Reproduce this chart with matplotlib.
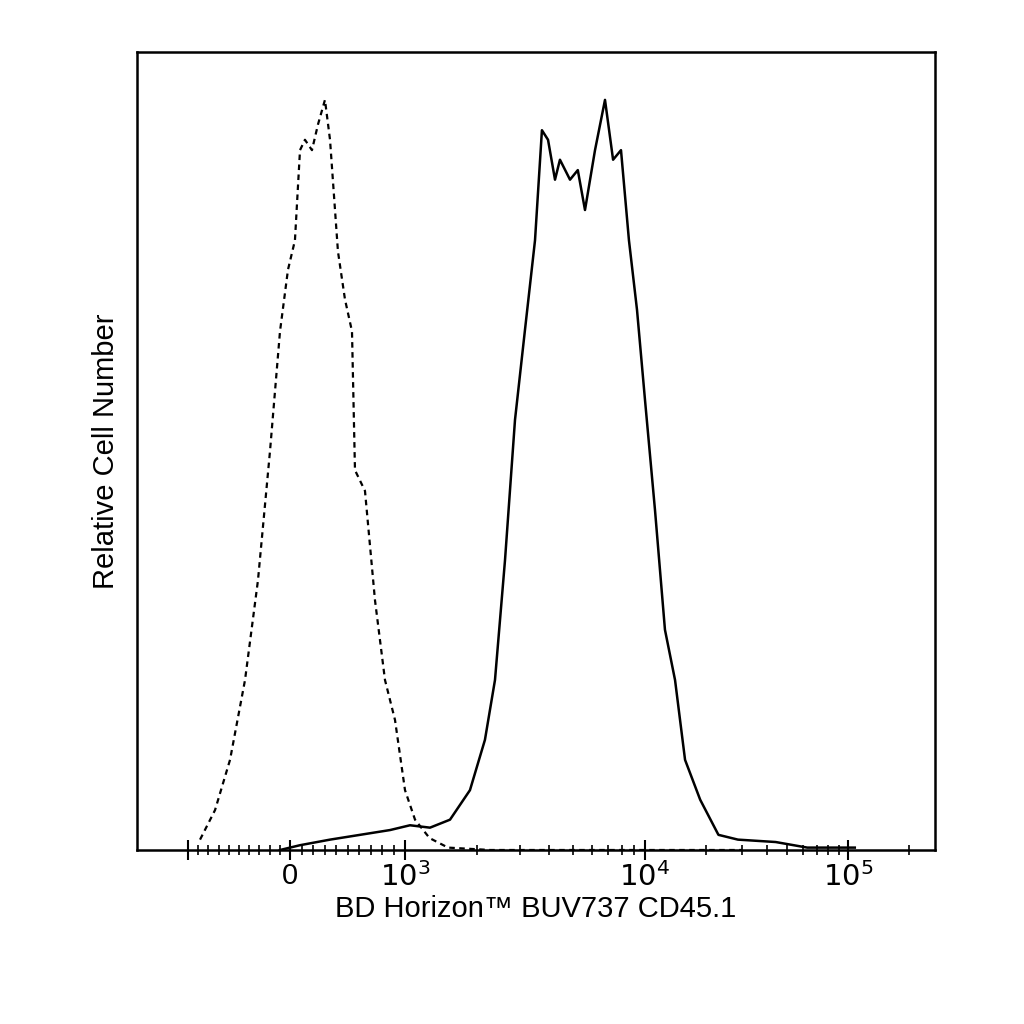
import numpy as np
import matplotlib
matplotlib.use("Agg")
import matplotlib.pyplot as plt

plt.rcParams['font.family'] = ['Liberation Sans', 'DejaVu Sans']

# Data (fluorescence value, relative count in %)
iso_x = [-882,-735,-588,-441,-314,-196,-98,-20,43,87,130,191,243,304,348,417,478,539,565,652,739,826,913,1000,1101,1265,1511,2266,30000]
iso_y = [1.3,5,11.3,21.3,33.8,50,65,72.7,76.4,87.7,89,87.7,90.9,94,89,75,69,65,47.6,45,31.3,21.3,16.3,7.5,3.8,1.5,0.3,0,0]
stain_x = [-98,87,348,609,870,1049,1271,1540,1865,2153,2371,2610,2873,3162,3481,3720,3944,4217,4422,4870,5248,5623,6190,6813,7362,7943,8573,9261,10000,11200,12540,14060,15750,18700,23000,28700,44000,63000,108000]
stain_y = [0,0.6,1.3,1.9,2.5,3.1,2.8,3.8,7.5,13.8,21.3,36.3,53.9,65.2,76.4,90.2,89,84,86.5,84,85.2,80.2,87.7,94,86.5,87.7,76.4,67.7,56.4,42.6,27.6,21.3,11.3,6.3,1.9,1.3,1,0.3,0.3]

# biexponential-like display scale (piecewise)
def _fwd_raw(v):
    v = np.asarray(v, dtype=float)
    out = np.empty_like(v)
    neg = v < 0
    mid = (v >= 0) & (v < 1000)
    hi = v >= 1000
    out[neg] = 290 + v[neg] / 1000 * 102
    out[mid] = 290 + v[mid] / 1000 * 115
    lv = np.log10(np.maximum(v[hi], 1e-9))
    out[hi] = np.where(lv < 4, 405 + (lv - 3) * 240, 645 + (lv - 4) * 203)
    return out

grid = np.concatenate([np.linspace(-5000, 1000, 3000), np.logspace(3, 6.5, 3000)[1:]])
gpos = _fwd_raw(grid)
fwd = lambda v: np.interp(v, grid, gpos)
inv = lambda p: np.interp(p, gpos, grid)

fig = plt.figure(figsize=(10.24, 10.24), dpi=100)
ax = fig.add_axes([137/1024, 174/1024, 798/1024, 798/1024])
ax.set_xscale('function', functions=(fwd, inv))
ax.plot(iso_x, iso_y, color='black', lw=1.6, ls=(0, (2.5, 2)))
ax.plot(stain_x, stain_y, color='black', lw=1.8)
xmin, xmax = float(inv(137)), float(inv(935))

major = [-1000, 0, 1000, 10000, 100000]
minor = [-900,-800,-700,-600,-500,-400,-300,-200,-100,100,200,300,400,500,600,700,800,900]
minor += [k * 10**e for e in (3, 4, 5) for k in range(2, 10)]
minor = [m for m in minor if xmin < m < xmax]
ax.set_xticks(major)
ax.set_xticklabels(['', '0', r'$10^3$', r'$10^4$', r'$10^5$'], fontsize=21)
ax.set_xticks(minor, minor=True)
ax.set_xlim(xmin, xmax)
ax.set_ylim(0, 100)
ax.set_yticks([])
ax.tick_params(axis='x', which='major', length=14, width=1.5, direction='inout', pad=2)
ax.tick_params(axis='x', which='minor', length=7, width=1.2, direction='inout')
for s in ax.spines.values():
    s.set_linewidth(1.8)
ax.set_xlabel('BD Horizon™ BUV737 CD45.1', fontsize=21, labelpad=2)
ax.set_ylabel('Relative Cell Number', fontsize=21, labelpad=12)
fig.savefig('out.png', dpi=100)
